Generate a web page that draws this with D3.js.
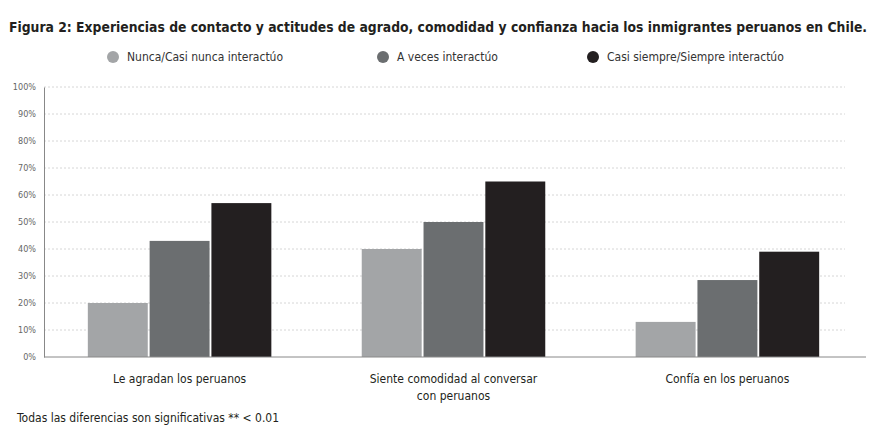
<!DOCTYPE html>
<html>
<head>
<meta charset="utf-8">
<script src="https://cdn.jsdelivr.net/npm/d3@7"></script>
<style>
  body { margin: 0; background: #fff; }
  text { font-family: "DejaVu Sans Condensed", "Roboto", sans-serif; }
</style>
</head>
<body>
<div id="chart"></div>
<script>
const categories = [["Le agradan los peruanos"], ["Siente comodidad al conversar", "con peruanos"], ["Confía en los peruanos"]];
const seriesNames = ["Nunca/Casi nunca interactúo", "A veces interactúo", "Casi siempre/Siempre interactúo"];
const nunca = [20, 40, 13];
const aVeces = [43, 50, 28.5];
const siempre = [57, 65, 39];
const yTicks = [0, 10, 20, 30, 40, 50, 60, 70, 80, 90, 100];
const colors = ["#a3a5a7", "#6b6e70", "#231f20"];

const width = 877, height = 427;
const margin = { top: 87, right: 11, bottom: 70, left: 44 };
const innerW = width - margin.left - margin.right;
const innerH = height - margin.top - margin.bottom;

const svg = d3.select("#chart")
  .append("svg")
  .attr("width", width)
  .attr("height", height);

// Title
svg.append("text")
  .attr("x", 9)
  .attr("y", 32)
  .attr("font-size", "13.2px")
  .attr("font-weight", "bold")
  .attr("fill", "#231f20")
  .attr("textLength", 858)
  .attr("lengthAdjust", "spacingAndGlyphs")
  .text("Figura 2: Experiencias de contacto y actitudes de agrado, comodidad y confianza hacia los inmigrantes peruanos en Chile.");

// Legend
const legendX = [113, 383, 593];
seriesNames.forEach((name, i) => {
  svg.append("circle")
    .attr("cx", legendX[i])
    .attr("cy", 57)
    .attr("r", 6)
    .attr("fill", colors[i]);
  svg.append("text")
    .attr("x", legendX[i] + 14)
    .attr("y", 61)
    .attr("font-size", "12px")
    .attr("fill", "#333")
    .text(name);
});

const g = svg.append("g")
  .attr("transform", `translate(${margin.left},${margin.top})`);

const x0 = d3.scaleBand()
  .domain(d3.range(categories.length))
  .range([0, innerW - 3])
  .paddingInner(0.33)
  .paddingOuter(0.16);

const x1 = d3.scaleBand()
  .domain(d3.range(seriesNames.length))
  .range([0, x0.bandwidth()])
  .paddingInner(0.03);

const y = d3.scaleLinear()
  .domain([0, 100])
  .range([innerH, 0]);

// Gridlines
g.append("g")
  .selectAll("line")
  .data(yTicks.filter(d => d > 0))
  .enter().append("line")
  .attr("x1", 0)
  .attr("x2", innerW - 21)
  .attr("y1", d => y(d))
  .attr("y2", d => y(d))
  .attr("stroke", "#d6d6d6")
  .attr("stroke-width", 1)
  .attr("stroke-dasharray", "2,2");

// Y axis
const yAxis = g.append("g")
  .call(d3.axisLeft(y).tickValues(yTicks).tickFormat(d => d + "%").tickSize(0).tickPadding(8));
yAxis.select(".domain").attr("stroke", "#888");
yAxis.selectAll("text")
  .attr("font-size", "9px")
  .attr("fill", "#666")
  .style("font-family", "\"DejaVu Sans Condensed\", sans-serif");

// Bars
const series = [nunca, aVeces, siempre];
const groups = g.selectAll(".grp")
  .data(categories.map((c, i) => series.map((s, j) => ({ cat: i, s: j, v: s[i] }))))
  .enter().append("g")
  .attr("class", "grp")
  .attr("transform", (d, i) => `translate(${x0(i)},0)`);

groups.selectAll("rect")
  .data(d => d)
  .enter().append("rect")
  .attr("x", d => x1(d.s))
  .attr("y", d => y(d.v))
  .attr("width", x1.bandwidth())
  .attr("height", d => innerH - y(d.v))
  .attr("fill", d => colors[d.s]);

// X axis line
g.append("line")
  .attr("x1", 0)
  .attr("x2", innerW)
  .attr("y1", innerH)
  .attr("y2", innerH)
  .attr("stroke", "#888");

// Category labels
categories.forEach((lines, i) => {
  const t = g.append("text")
    .attr("x", x0(i) + x0.bandwidth() / 2)
    .attr("y", innerH + 26)
    .attr("text-anchor", "middle")
    .attr("font-size", "12px")
    .attr("fill", "#231f20");
  lines.forEach((ln, k) => {
    t.append("tspan")
      .attr("x", x0(i) + x0.bandwidth() / 2)
      .attr("dy", k === 0 ? 0 : 17)
      .text(ln);
  });
});

// Footnote
svg.append("text")
  .attr("x", 17)
  .attr("y", 422)
  .attr("font-size", "12px")
  .attr("fill", "#231f20")
  .text("Todas las diferencias son significativas ** < 0.01");
</script>
</body>
</html>
